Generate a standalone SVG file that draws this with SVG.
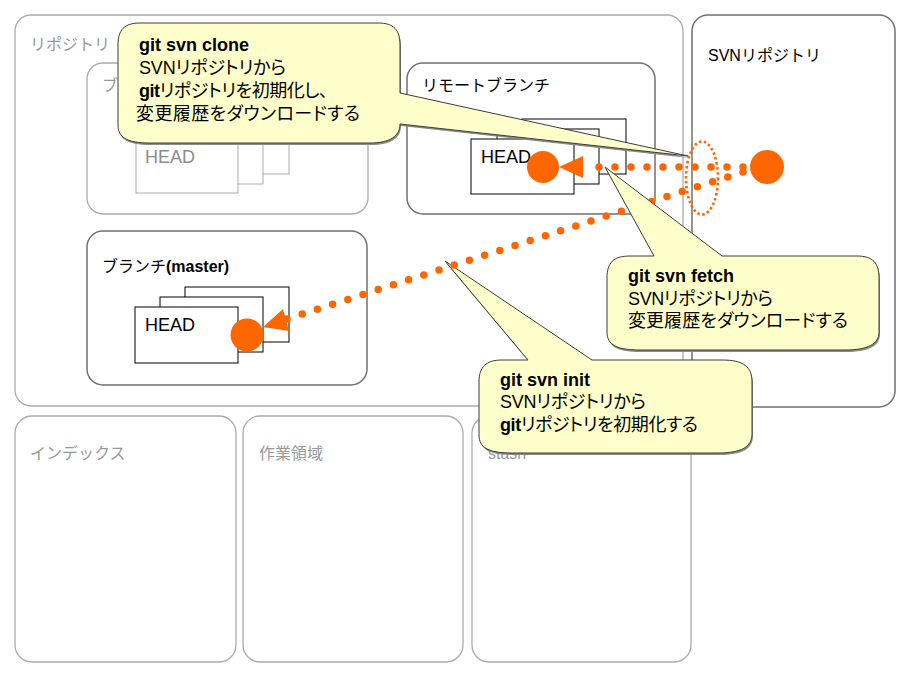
<svg xmlns="http://www.w3.org/2000/svg" width="909" height="676" viewBox="0 0 909 676">
<style>
text{font-family:"Liberation Sans","Noto Sans CJK JP",sans-serif}
.lbox{fill:#fff;stroke:#ababab;stroke-width:1.3}
.dbox{fill:#fff;stroke:#707070;stroke-width:1.5}
.lrect{fill:#fff;stroke:#ababab;stroke-width:1}
.drect{fill:#fff;stroke:#000;stroke-width:1}
.gl{font-size:16px;fill:#999}
.bl{font-size:16px;fill:#000}
.head{font-size:18px}
.callout{fill:#FFFFCC;stroke:#3c3c3c;stroke-width:1}
.shadow{fill:#8a8a8a}
.ct{font-size:18px;fill:#000;font-feature-settings:"palt"}
.b{font-weight:bold}
.dots{stroke:#FF6600;stroke-width:7.5;stroke-linecap:round;fill:none}
.or{fill:#FF6600}
</style>
<defs>
<path id="clonePath" d="M140,23 L378,23 C394,23 400,30 400,45 L400,93 L688,156 L400,124 C400,136 390,143 370,143 L150,143 C128,143 118,138 118,125 L118,45 C118,30 124,23 140,23 Z"/>
<path id="fetchPath" d="M630,256 L654,256 L605,167 L722,256 L857,256 C873,256 879,263 879,278 L879,332 C879,344 868,350 845,350 L640,350 C617,350 607,345 607,332 L607,278 C607,263 613,256 630,256 Z"/>
<path id="initPath" d="M502,360 L528,360 L445,261 L592,360 L722,360 C744,360 752,367 752,382 L752,434 C752,447 741,453 718,453 L512,453 C489,453 479,448 479,435 L479,382 C479,367 486,360 502,360 Z"/>
</defs>

<g id="repository">
<rect class="lbox" x="15" y="15" width="668" height="391" rx="16"/>
<text class="gl" x="30" y="50">リポジトリ</text>
</g>

<g id="svn-repository">
<rect class="dbox" x="692" y="15" width="203" height="392" rx="16"/>
<text class="bl" x="708" y="61">SVNリポジトリ</text>
</g>

<g id="branch">
<rect class="lbox" x="87" y="63" width="281" height="151" rx="16"/>
<text class="gl" x="102" y="91">ブ</text>
<rect class="lrect" x="186" y="119" width="103" height="55"/>
<rect class="lrect" x="161" y="129" width="102" height="55"/>
<rect class="lrect" x="136" y="139" width="102" height="54"/>
<text class="head" x="145" y="163" fill="#8c8c8c">HEAD</text>
</g>

<g id="remote-branch">
<rect class="dbox" x="407" y="63" width="248" height="151" rx="16"/>
<text class="bl" x="422" y="91">リモートブランチ</text>
<rect class="drect" x="522" y="119" width="104" height="55"/>
<rect class="drect" x="497" y="129" width="102" height="55"/>
<rect class="drect" x="471" y="139" width="103" height="55"/>
<text class="head" x="481" y="163">HEAD</text>
</g>

<g id="master-branch">
<rect class="dbox" x="87" y="231" width="280" height="154" rx="16"/>
<text class="bl" x="102" y="272">ブランチ<tspan class="b">(master)</tspan></text>
<rect class="drect" x="185" y="287" width="104" height="55"/>
<rect class="drect" x="160" y="297" width="103" height="55"/>
<rect class="drect" x="135" y="307" width="103" height="56"/>
<text class="head" x="145" y="331">HEAD</text>
</g>

<g id="index">
<rect class="lbox" x="15" y="416" width="221" height="246" rx="17"/>
<text class="gl" x="30" y="459">インデックス</text>
</g>
<g id="workspace">
<rect class="lbox" x="243" y="416" width="220" height="246" rx="17"/>
<text class="gl" x="259" y="459">作業領域</text>
</g>
<g id="stash">
<rect class="lbox" x="472" y="416" width="219" height="246" rx="17"/>
<text class="gl" x="488" y="459">stash</text>
</g>

<g id="callout-clone">
<use href="#clonePath" class="shadow" transform="translate(1,2)"/>
<use href="#clonePath" class="callout"/>
<text class="ct b" x="139" y="51">git svn clone</text>
<text class="ct" x="139" y="74" textLength="147" lengthAdjust="spacing">SVNリポジトリから</text>
<text class="ct" x="139" y="97" textLength="189" lengthAdjust="spacing"><tspan class="b">git</tspan>リポジトリを初期化し、</text>
<text class="ct" x="136" y="119.5" textLength="224" lengthAdjust="spacing">変更履歴をダウンロードする</text>
</g>

<g id="callout-init">
<use href="#initPath" class="shadow" transform="translate(1,2)"/>
<use href="#initPath" class="callout"/>
<text class="ct b" x="500" y="385.5">git svn init</text>
<text class="ct" x="500" y="408" textLength="146" lengthAdjust="spacing">SVNリポジトリから</text>
<text class="ct" x="500" y="430.5" textLength="198" lengthAdjust="spacing"><tspan class="b">git</tspan>リポジトリを初期化する</text>
</g>

<g id="connectors">
<line class="dots" x1="743" y1="167" x2="583" y2="167" stroke-dasharray="0 16"/>
<line class="dots" x1="743" y1="172" x2="287" y2="319" stroke-dasharray="0 15.97"/>
<polygon class="or" points="559,167 583,156 583,178"/>
<polygon class="or" points="263,327 283,309 289,331"/>
<circle class="or" cx="767" cy="167" r="17"/>
<circle class="or" cx="543" cy="167" r="16"/>
<circle class="or" cx="247" cy="335" r="16.5"/>
<ellipse cx="702" cy="178" rx="16" ry="36.5" fill="none" stroke="#FF6600" stroke-width="2.6" stroke-dasharray="2.5 2.5"/>
</g>

<g id="callout-fetch">
<use href="#fetchPath" class="shadow" transform="translate(1,2)"/>
<use href="#fetchPath" class="callout"/>
<text class="ct b" x="628" y="282">git svn fetch</text>
<text class="ct" x="628" y="304.5" textLength="145" lengthAdjust="spacing">SVNリポジトリから</text>
<text class="ct" x="628" y="327" textLength="220" lengthAdjust="spacing">変更履歴をダウンロードする</text>
</g>
</svg>
